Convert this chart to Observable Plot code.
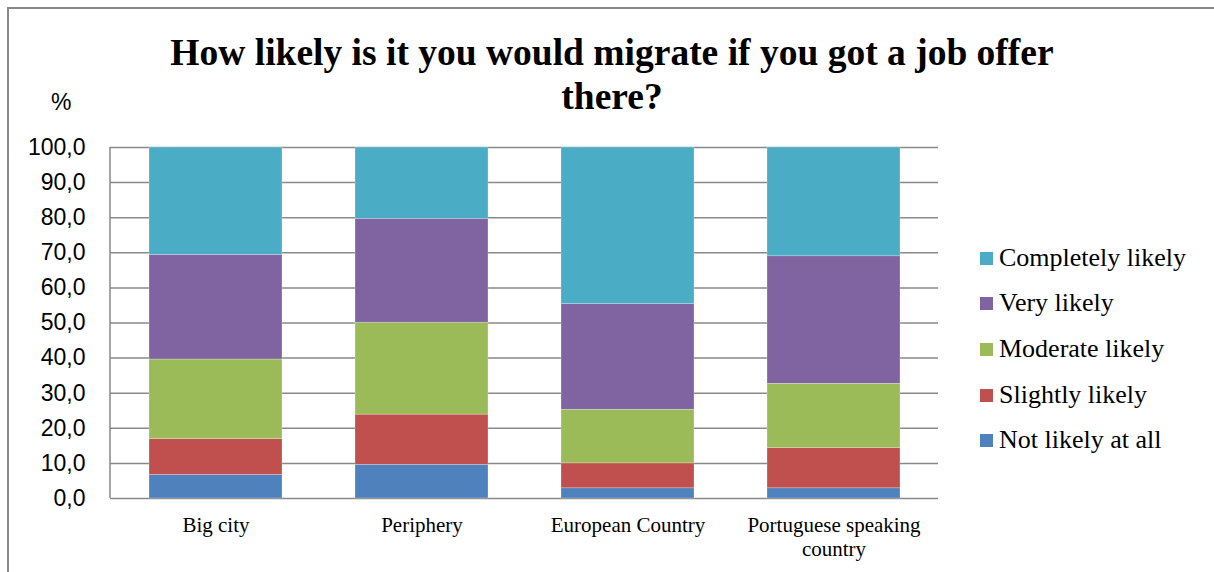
<!DOCTYPE html>
<html><head><meta charset="utf-8">
<script src="https://cdn.jsdelivr.net/npm/d3@7"></script>
<script src="https://cdn.jsdelivr.net/npm/@observablehq/plot@0.6"></script>
<style>
body{margin:0;background:#fff;}
#wrap{position:relative;width:1214px;height:572px;overflow:hidden;background:#fff;}
#frame{position:absolute;left:7px;top:7px;width:1230px;height:620px;border-left:2px solid #898989;border-top:2px solid #898989;}
#title{position:absolute;left:0;width:1224px;top:31px;text-align:center;font:bold 37.5px "Liberation Serif",serif;line-height:44px;color:#000;}
#pct{position:absolute;left:51px;top:89px;font:23px "Liberation Sans",sans-serif;color:#000;}
#chart{position:absolute;left:0;top:130px;}
#legend{position:absolute;left:980px;top:0;}
.li{position:absolute;left:0;white-space:nowrap;font:26px "Liberation Serif",serif;color:#000;display:flex;align-items:center;}
.sw{width:13px;height:13px;margin-right:6px;}
</style></head>
<body>
<div id="wrap">
  <div id="frame"></div>
  <div id="title">How likely is it you would migrate if you got a job offer<br>there?</div>
  <div id="pct">%</div>
  <div id="chart"></div>
  <div id="legend"></div>
</div>
<script>
const categories = ["Big city", "Periphery", "European Country", "Portuguese speaking country"];
const series = ["Not likely at all", "Slightly likely", "Moderate likely", "Very likely", "Completely likely"];
const colors = ["#4F81BD", "#C0504D", "#9BBB59", "#8064A2", "#4BACC6"];
const notLikely   = [6.7, 9.6, 2.9, 2.9];
const slightly    = [10.2, 14.3, 7.1, 11.5];
const moderate    = [22.7, 26.2, 15.3, 18.3];
const veryLikely  = [29.8, 29.6, 30.1, 36.3];
const completely  = [30.6, 20.3, 44.6, 31.0];
const yTicks = [0, 10, 20, 30, 40, 50, 60, 70, 80, 90, 100];

const valuesBySeries = [notLikely, slightly, moderate, veryLikely, completely];
const data = [];
series.forEach((s, i) => categories.forEach((c, j) => data.push({cat: c, series: s, value: valuesBySeries[i][j]})));

const fmtY = d => d3.format(".1f")(d).replace(".", ",");
const labelMap = {"Portuguese speaking country": "Portuguese speaking\ncountry"};

const chart = Plot.plot({
  width: 960,
  height: 442,
  marginLeft: 110,
  marginRight: 22,
  marginTop: 17,
  marginBottom: 74,
  style: {background: "transparent", overflow: "visible"},
  x: {domain: categories, paddingInner: 0.355, paddingOuter: 0.18, label: null},
  y: {domain: [0, 100], label: null},
  color: {domain: series, range: colors},
  marks: [
    Plot.ruleY(yTicks, {stroke: "#898989", strokeWidth: 1.5}),
    Plot.barY(data, Plot.stackY({order: series}, {x: "cat", y: "value", fill: "series", stroke: "#ffffff", strokeWidth: 0.5, strokeOpacity: 0.5})),
    Plot.axisY({ticks: yTicks, tickFormat: fmtY, tickSize: 0, tickPadding: 25, fontSize: 23, fontFamily: "Liberation Sans", fill: "#000", label: null}),
    Plot.axisX({tickSize: 0, tickPadding: 16, fontSize: 21, fontFamily: "Liberation Serif", fill: "#000", tickFormat: d => labelMap[d] || d, lineHeight: 1.15, label: null})
  ]
});
document.getElementById("chart").appendChild(chart);

// left axis line of the plot area
const svg = d3.select(chart);
svg.append("line").attr("x1", 110).attr("x2", 110).attr("y1", 17).attr("y2", 368)
  .attr("stroke", "#898989").attr("stroke-width", 1.5);

const legend = document.getElementById("legend");
const legendY = [258, 303, 349, 395, 440];
const legendOrder = series.slice().reverse();
legendOrder.forEach((s, i) => {
  const div = document.createElement("div");
  div.className = "li";
  div.style.top = (legendY[i] - 16) + "px";
  div.style.height = "32px";
  const sw = document.createElement("div");
  sw.className = "sw";
  sw.style.background = colors[series.indexOf(s)];
  div.appendChild(sw);
  div.appendChild(document.createTextNode(s));
  legend.appendChild(div);
});
</script>
</body></html>
